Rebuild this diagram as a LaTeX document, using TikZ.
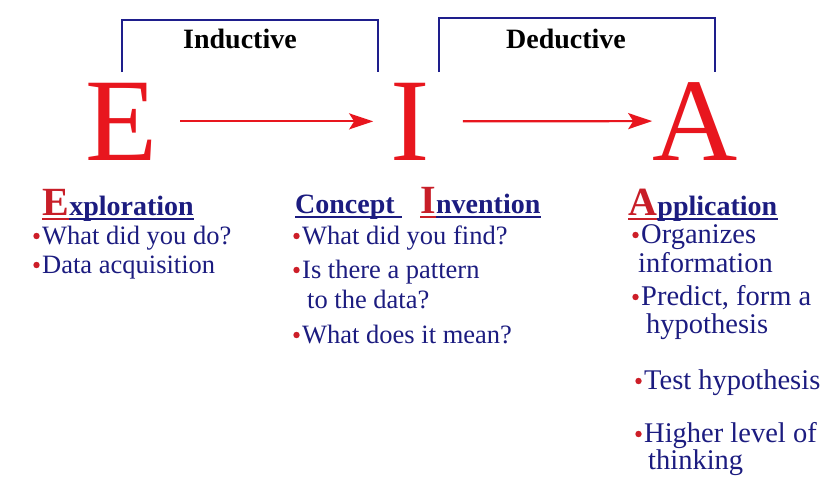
\documentclass[tikz,border=0pt]{standalone}
\usepackage{fontspec}
\setmainfont{Liberation Serif}
\usetikzlibrary{arrows.meta}
\definecolor{navy}{RGB}{28,28,128}
\definecolor{bigred}{RGB}{232,22,30}
\definecolor{headred}{RGB}{200,30,40}
\definecolor{bulred}{RGB}{205,30,40}
\definecolor{linkblue}{RGB}{30,30,140}
\newcommand{\bulitem}[5]{%
  \node[#1] (#2) at (#3) {#4};
  \fill[bulred] (#2.base west) ++(-5.5,-8) circle[radius=3.2pt];
}
\tikzset{
  bigletter/.style={font=\fontsize{118}{118}\selectfont, text=bigred, inner sep=0pt, anchor=base},
  toplabel/.style={font=\fontsize{28}{28}\selectfont\bfseries, text=black, inner sep=0pt, anchor=base},
  bracketline/.style={draw=linkblue, line width=2.2pt},
  flowarrow/.style={draw=bigred, line width=2.2pt, -{Stealth[length=24pt,width=16pt,inset=5pt]}},
  headbig/.style={font=\fontsize{40}{40}\selectfont\bfseries, text=headred, inner sep=0pt, anchor=base west},
  headtxt/.style={font=\fontsize{28}{28}\selectfont\bfseries, text=navy, inner sep=0pt, anchor=base west},
  ulnavy/.style={draw=navy, line width=1.4pt},
  ulred/.style={draw=headred, line width=1.4pt},
  itemE/.style={font=\fontsize{26.5}{26.5}\selectfont, text=navy, inner sep=0pt, anchor=base west},
  itemA/.style={font=\fontsize{28.5}{28.5}\selectfont, text=navy, inner sep=0pt, anchor=base west},
}
\begin{document}
\begin{tikzpicture}[x=1pt, y=-1pt]
\useasboundingbox[fill=white] (0,0) rectangle (826,477);

% big letters
\node[bigletter] (E) at (122,160) {E};
\node[bigletter] (I) at (410,160) {I};
\node[bigletter] (A) at (695,160) {A};

% arrows
\draw[flowarrow, shorten <=22pt, shorten >=17pt] (E) -- (I);
\draw[flowarrow, shorten <=33pt, shorten >=0pt] (I) -- (A);

% brackets
\coordinate (indL) at (122,72);
\coordinate (indR) at (378,72);
\coordinate (dedL) at (439,72);
\coordinate (dedR) at (715,72);
\draw[bracketline] (indL) -- ++(0,-52) -| (indR);
\draw[bracketline] (dedL) -- ++(0,-54) -| (dedR);
\node[toplabel] (ind) at (240,48) {Inductive};
\node[toplabel] (ded) at (566,48) {Deductive};

% Exploration
\node[headbig] (hE) at (42,215) {E};
\node[headtxt] (hEx) at (hE.base east) {xploration};
\draw[ulred] ([yshift=-4pt]hE.base west) -- ([yshift=-4pt]hE.base east);
\draw[ulnavy] ([yshift=-4pt]hEx.base west) -- ([yshift=-4pt]hEx.base east);
\bulitem{itemE}{e1}{42,244}{What did you do?}{}
\bulitem{itemE}{e2}{42,273}{Data acquisition}{}

% Concept Invention
\node[headtxt] (hC) at (295,213) {Concept};
\draw[ulnavy] ([yshift=-4pt]hC.base west) -- ([yshift=-4pt,xshift=7pt]hC.base east);
\node[headbig] (hI) at (420,213) {I};
\node[headtxt] (hIn) at (hI.base east) {nvention};
\draw[ulred] ([yshift=-4pt]hI.base west) -- ([yshift=-4pt]hI.base east);
\draw[ulnavy] ([yshift=-4pt]hIn.base west) -- ([yshift=-4pt]hIn.base east);
\bulitem{itemE}{i1}{302,244}{What did you find?}{}
\bulitem{itemE}{i2}{302,278}{Is there a pattern}{}
\node[itemE] (i2b) at (307,308) {to the data?};
\bulitem{itemE}{i3}{302,343}{What does it mean?}{}

% Application
\node[headbig] (hA) at (628,215) {A};
\node[headtxt] (hAp) at (hA.base east) {pplication};
\draw[ulred] ([yshift=-4pt]hA.base west) -- ([yshift=-4pt]hA.base east);
\draw[ulnavy] ([yshift=-4pt]hAp.base west) -- ([yshift=-4pt]hAp.base east);
\bulitem{itemA}{a1}{641,243}{Organizes}{}
\node[itemA] (a1b) at (638,272) {information};
\bulitem{itemA}{a2}{641,305}{Predict, form a}{}
\node[itemA] (a2b) at (646,333) {hypothesis};
\bulitem{itemA}{a3}{644,389}{Test hypothesis}{}
\bulitem{itemA}{a4}{644,442}{Higher level of}{}
\node[itemA] (a4b) at (648,469) {thinking};
\end{tikzpicture}
\end{document}
